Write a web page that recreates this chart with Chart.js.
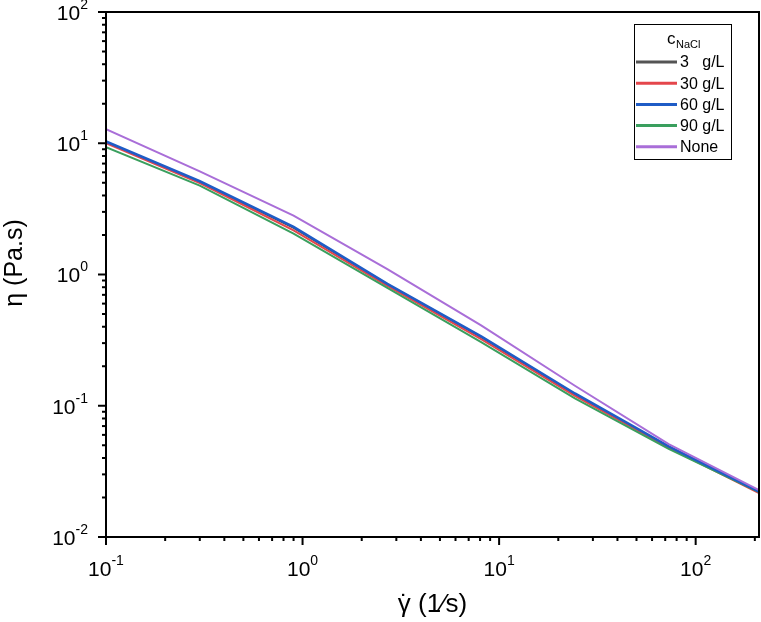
<!DOCTYPE html>
<html>
<head>
<meta charset="utf-8">
<script src="https://cdn.jsdelivr.net/npm/chart.js@4.4.1/dist/chart.umd.min.js"></script>
<style>
  html, body { margin: 0; padding: 0; background: #fff; }
  #wrap { width: 761px; height: 622px; position: relative; }
</style>
</head>
<body>
<div id="wrap"><canvas id="chart"></canvas></div>
<script>
// shear rate (1/s)
const shearRate = [0.1, 0.3, 0.9, 2.7, 8.1, 24.3, 72.9, 210];
// viscosity (Pa.s) per NaCl concentration
const visc3 = [10.2, 5.08, 2.27, 0.84, 0.333, 0.122, 0.0487, 0.0220];
const visc30 = [10.0, 4.98, 2.17, 0.82, 0.322, 0.119, 0.0480, 0.0216];
const visc60 = [10.3, 5.13, 2.31, 0.85, 0.338, 0.124, 0.0490, 0.0222];
const visc90 = [9.35, 4.75, 2.05, 0.79, 0.305, 0.114, 0.0470, 0.0220];
const viscNone = [12.8, 6.1, 2.81, 1.10, 0.41, 0.142, 0.0510, 0.0228];
const seriesNames = ['3', '30', '60', '90', 'None'];

const colors = ['#545454', '#e4464b', '#1f5cc6', '#3a9f5e', '#a96ed8'];
const FONT = '"Liberation Sans", Arial, sans-serif';

function pts(ys) {
  return shearRate.map((x, i) => ({ x: x, y: ys[i] }));
}

// "10" with a raised exponent
function supLabel(ctx, exp, x, y, align) {
  ctx.font = '21px ' + FONT;
  const bw = ctx.measureText('10').width;
  ctx.font = '14px ' + FONT;
  const sw = ctx.measureText(exp).width;
  let left = x;
  if (align === 'right') left = x - bw - sw;
  if (align === 'center') left = x - (bw + sw) / 2;
  ctx.textAlign = 'left';
  ctx.textBaseline = 'middle';
  ctx.font = '21px ' + FONT;
  ctx.fillText('10', left, y);
  ctx.font = '14px ' + FONT;
  ctx.fillText(exp, left + bw, y - 9);
}

function isWhole(v) {
  const p = Math.pow(10, Math.floor(Math.log10(v) + 1e-9));
  const s = v / p;
  return Math.abs(s - Math.round(s)) < 1e-6;
}
function isMajor(v) {
  const l = Math.log10(v);
  return Math.abs(l - Math.round(l)) < 1e-6;
}

const framePlugin = {
  id: 'frame',
  afterDraw(chart) {
    const ctx = chart.ctx;
    const a = chart.chartArea;
    const xs = chart.scales.x, ys = chart.scales.y;
    ctx.save();
    ctx.strokeStyle = '#000';
    ctx.fillStyle = '#000';
    ctx.lineWidth = 2;
    ctx.strokeRect(a.left, a.top, a.right - a.left, a.bottom - a.top);

    // x ticks
    xs.ticks.forEach(t => {
      if (!isWhole(t.value)) return;
      const px = xs.getPixelForValue(t.value);
      const len = isMajor(t.value) ? 8 : 4;
      ctx.beginPath();
      ctx.moveTo(px, a.bottom);
      ctx.lineTo(px, a.bottom + len);
      ctx.stroke();
      if (isMajor(t.value)) {
        supLabel(ctx, String(Math.round(Math.log10(t.value))), px, a.bottom + 33, 'center');
      }
    });
    // y ticks
    ys.ticks.forEach(t => {
      if (!isWhole(t.value)) return;
      const py = ys.getPixelForValue(t.value);
      const len = isMajor(t.value) ? 8 : 4;
      ctx.beginPath();
      ctx.moveTo(a.left, py);
      ctx.lineTo(a.left - len, py);
      ctx.stroke();
      if (isMajor(t.value)) {
        supLabel(ctx, String(Math.round(Math.log10(t.value))), 88, py + 2, 'right');
      }
    });

    // x title: gamma with a dot above, then the unit
    ctx.textBaseline = 'alphabetic';
    ctx.textAlign = 'left';
    ctx.font = '26px ' + FONT;
    const gw = ctx.measureText('\u03B3').width;
    const rest = ' (1\u2044s)';
    const total = gw + ctx.measureText(rest).width;
    const tx = (a.left + a.right) / 2 - total / 2;
    ctx.fillText('\u03B3', tx, 612);
    ctx.fillText(rest, tx + gw, 612);
    ctx.textAlign = 'center';
    ctx.fillText('\u02D9', tx + gw / 2, 613);

    // y title
    ctx.save();
    ctx.translate(22, 263);
    ctx.rotate(-Math.PI / 2);
    ctx.font = '25px ' + FONT;
    ctx.fillText('\u03B7 (Pa.s)', 0, 0);
    ctx.restore();

    // legend box
    ctx.lineWidth = 1;
    ctx.strokeRect(634.5, 24.5, 97, 135);
    ctx.textAlign = 'left';
    ctx.font = '17px ' + FONT;
    ctx.fillText('c', 667, 44);
    ctx.font = '11px ' + FONT;
    ctx.fillText('NaCl', 676, 48);

    ctx.font = '16px ' + FONT;
    const gx = 680 + ctx.measureText('30 ').width;
    chart.data.datasets.forEach((ds, i) => {
      const yy = 62 + i * 21.2;
      ctx.strokeStyle = ds.borderColor;
      ctx.lineWidth = 3;
      ctx.beginPath();
      ctx.moveTo(636, yy);
      ctx.lineTo(677, yy);
      ctx.stroke();
      ctx.textBaseline = 'middle';
      ctx.fillStyle = '#000';
      const name = seriesNames[i];
      ctx.fillText(name, 680, yy + 1);
      if (name !== 'None') ctx.fillText('g/L', gx, yy + 1);
    });
    ctx.restore();
  }
};

const series = [visc3, visc30, visc60, visc90, viscNone];
const drawOrder = [5, 4, 2, 3, 1];

new Chart(document.getElementById('chart'), {
  type: 'line',
  data: {
    datasets: series.map((ys, i) => ({
      label: seriesNames[i],
      data: pts(ys),
      borderColor: colors[i],
      backgroundColor: colors[i],
      borderWidth: i === 2 ? 2.6 : 2,
      pointRadius: 0,
      tension: 0,
      order: drawOrder[i]
    }))
  },
  options: {
    responsive: true,
    maintainAspectRatio: false,
    animation: false,
    layout: { padding: { top: 12, right: 2, left: 0, bottom: 0 } },
    plugins: { legend: { display: false }, tooltip: { enabled: false } },
    scales: {
      x: {
        type: 'logarithmic',
        min: 0.1,
        max: 210,
        grid: { display: false },
        border: { display: false },
        ticks: { display: false },
        afterFit(scale) { scale.height = 85; }
      },
      y: {
        type: 'logarithmic',
        min: 0.01,
        max: 100,
        grid: { display: false },
        border: { display: false },
        ticks: { display: false },
        afterFit(scale) { scale.width = 106; }
      }
    }
  },
  plugins: [framePlugin]
});
</script>
</body>
</html>
